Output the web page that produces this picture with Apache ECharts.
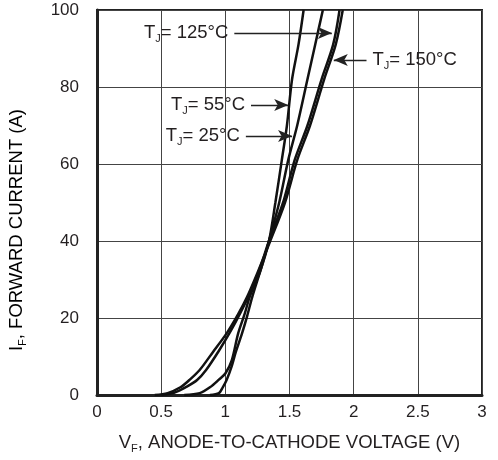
<!DOCTYPE html>
<html>
<head>
<meta charset="utf-8">
<script src="https://cdn.jsdelivr.net/npm/echarts@6/dist/echarts.min.js"></script>
<style>
html,body{margin:0;padding:0;background:#fff;}
#chart{width:498px;height:460px;}
</style>
</head>
<body>
<div id="chart"></div>
<script>
// ---- data ----
const xTickValues = [0, 0.5, 1, 1.5, 2, 2.5, 3];
const yTickValues = [0, 20, 40, 60, 80, 100];

const v25  = [0.88, 0.95, 0.98, 1.01, 1.05, 1.08, 1.13, 1.17, 1.21, 1.28, 1.34, 1.42, 1.49, 1.56, 1.64, 1.70, 1.76];
const i25  = [0,    0.5,  2,    3.9,  7.5,  11,   16,   20.5, 25.5, 33,   40,   50,   61,   70,   82,   91,   100];

const v55  = [0.68, 0.80, 0.88, 0.95, 1.00, 1.05, 1.10, 1.15, 1.19, 1.27, 1.34, 1.39, 1.44, 1.48, 1.52, 1.57, 1.61];
const i55  = [0,    0.5,  2,    4,    5.6,  9,    16,   21,   25.5, 32,   40,   50,   61,   70,   82,   91,   100];

const v125 = [0.50, 0.60, 0.70, 0.78, 0.85, 0.95, 1.04, 1.12, 1.20, 1.27, 1.34, 1.45, 1.54, 1.64, 1.75, 1.84, 1.89];
const i125 = [0,    0.6,  2.2,  3.9,  6.5,  11.5, 16.5, 21.5, 27,   33,   40,   50,   61,   70,   82,   91,   100];

const v150 = [0.45, 0.55, 0.65, 0.72, 0.80, 0.90, 1.01, 1.10, 1.17, 1.25, 1.35, 1.465, 1.56, 1.66, 1.77, 1.86, 1.915];
const i150 = [0,    0.5,  2,    3.9,  6.5,  11,   16,   21,   25.5, 31.7, 40,   50,    61,   70,   82,   91,   100];

const seriesNames = ['25°C', '55°C', '125°C', '150°C'];

// ---- annotation anchors (data coordinates) ----
const annotations = {
  '125°C': {from: [1.07, 94.0], to: [1.83, 94.0]},
  '150°C': {from: [2.10, 87.0], to: [1.845, 87.0]},
  '55°C':  {from: [1.20, 75.3], to: [1.49, 75.3]},
  '25°C':  {from: [1.16, 67.3], to: [1.52, 67.3]}
};

function pairs(v, i) { return v.map((x, k) => [x, i[k]]); }

const FONT = '"Liberation Sans", Arial, Helvetica, sans-serif';
const TXT = '#231f20';
const richT = {
  t: {fontFamily: FONT, fontSize: 18.5, color: TXT, lineHeight: 23},
  s: {fontFamily: FONT, fontSize: 11, color: TXT, lineHeight: 11, verticalAlign: 'bottom'}
};

function makeSeries(name, v, i) {
  const a = annotations[name];
  return {
    name: name,
    type: 'line',
    data: pairs(v, i),
    showSymbol: false,
    smooth: 0.3,
    lineStyle: {color: '#111', width: 2.5},
    animation: false,
    silent: true,
    markLine: {
      silent: true,
      animation: false,
      symbol: ['none', 'arrow'],
      symbolSize: [9, 14],
      lineStyle: {color: '#222', width: 1.3, type: 'solid'},
      label: {
        show: true,
        position: 'start',
        distance: 6,
        formatter: '{t|T}{s|J}{t|= ' + name + '}',
        rich: richT
      },
      data: [[{coord: a.from}, {coord: a.to}]]
    }
  };
}

const chart = echarts.init(document.getElementById('chart'), null, {renderer: 'canvas'});

const option = {
  backgroundColor: '#fff',
  animation: false,
  grid: {left: 97, top: 10, right: 16, bottom: 65, show: true, borderColor: '#222', borderWidth: 2},
  xAxis: {
    type: 'value',
    min: xTickValues[0],
    max: xTickValues[xTickValues.length - 1],
    interval: xTickValues[1] - xTickValues[0],
    axisLine: {show: true, lineStyle: {color: '#222', width: 3}},
    axisTick: {show: false},
    splitLine: {show: true, lineStyle: {color: '#444', width: 1}},
    axisLabel: {color: TXT, fontFamily: FONT, fontSize: 17, margin: 9},
    name: '{t|V}{s|F}{t|, ANODE-TO-CATHODE VOLTAGE (V)}',
    nameLocation: 'middle',
    nameGap: 36,
    nameTextStyle: {rich: richT}
  },
  yAxis: {
    type: 'value',
    min: yTickValues[0],
    max: yTickValues[yTickValues.length - 1],
    interval: yTickValues[1] - yTickValues[0],
    axisLine: {show: true, lineStyle: {color: '#222', width: 3}},
    axisTick: {show: false},
    splitLine: {show: true, lineStyle: {color: '#444', width: 1}},
    axisLabel: {color: TXT, fontFamily: FONT, fontSize: 17, margin: 18}
  },
  graphic: [{
    type: 'text',
    x: 17,
    y: 230,
    rotation: Math.PI / 2,
    style: {
      text: '{t|I}{s|F}{t|, FORWARD CURRENT (A)}',
      rich: richT,
      align: 'center',
      verticalAlign: 'middle'
    },
    silent: true
  }],
  series: [
    makeSeries(seriesNames[0], v25, i25),
    makeSeries(seriesNames[1], v55, i55),
    makeSeries(seriesNames[2], v125, i125),
    makeSeries(seriesNames[3], v150, i150)
  ]
};
chart.setOption(option);
</script>
</body>
</html>
